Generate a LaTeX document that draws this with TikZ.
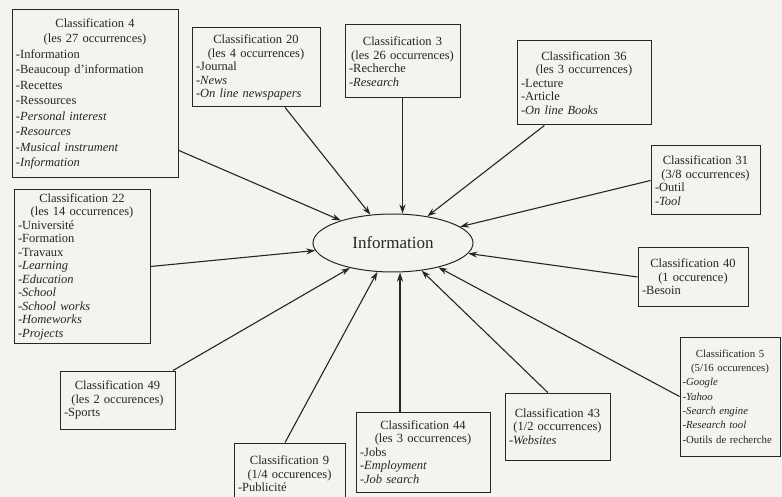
\documentclass[tikz,border=0pt]{standalone}
\usepackage{fontspec}
\setmainfont{Liberation Serif}
\usetikzlibrary{shapes.geometric,arrows.meta}
\definecolor{paper}{HTML}{F4F3EF}
\definecolor{ink}{HTML}{262626}
% centred heading of a box
\newcommand{\cltitle}[2]{{\centering #1\\#2\par}}
\tikzset{
  classbox/.style={draw=ink, line width=1pt, align=left, inner xsep=4pt, inner ysep=3pt,
    text=ink, font=\fontsize{12.5}{13.5}\selectfont},
  linkarrow/.style={draw=ink, line width=1.1pt, -{Stealth[length=9pt,width=6pt]}},
}
\begin{document}
\begin{tikzpicture}[x=1pt,y=-1pt]
		\fill[paper] (0,0) rectangle (782,497);
		\useasboundingbox (0,0) rectangle (782,497);
		\clip (0,0) rectangle (782,497);
		% centre
		\node[ellipse, draw=ink, line width=1pt, minimum width=160pt, minimum height=58pt,
			text=ink, font=\fontsize{17}{19}\selectfont] (info) at (393,243) {Information};
		% classification boxes
		\node[classbox, text width=158pt, minimum height=168pt,
			font=\fontsize{12.5}{15.5}\selectfont] (c4) at (95,94)
			{\cltitle{Classification 4}{(les 27 occurrences)}-Information\\-Beaucoup d'information\\-Recettes\\-Ressources\\-\textit{Personal interest}\\-\textit{Resources}\\-\textit{Musical instrument}\\-\textit{Information}};
		\node[classbox, text width=120pt, minimum height=79pt] (c20) at (256,67.5)
			{\cltitle{Classification 20}{(les 4 occurrences)}-Journal\\-\textit{News}\\-\textit{On line newspapers}};
		\node[classbox, text width=107pt, minimum height=73pt] (c3) at (402.5,61.5)
			{\cltitle{Classification 3}{(les 26 occurrences)}-Recherche\\-\textit{Research}};
		\node[classbox, text width=126pt, minimum height=84pt] (c36) at (584,83)
			{\cltitle{Classification 36}{(les 3 occurrences)}-Lecture\\-Article\\-\textit{On line Books}};
		\node[classbox, text width=101pt, minimum height=69pt] (c31) at (705.5,180.5)
			{\cltitle{Classification 31}{(3/8 occurrences)}-Outil\\-\textit{Tool}};
		\node[classbox, text width=128pt, minimum height=153pt] (c22) at (82,266.5)
			{\cltitle{Classification 22}{(les 14 occurrences)}-Université\\-Formation\\-Travaux\\-\textit{Learning}\\-\textit{Education}\\-\textit{School}\\-\textit{School works}\\-\textit{Homeworks}\\-\textit{Projects}};
		\node[classbox, text width=102pt, minimum height=58pt] (c40) at (693,277)
			{\cltitle{Classification 40}{(1 occurence)}-Besoin};
		\node[classbox, inner xsep=2.5pt, text width=95pt, minimum height=119pt,
			font=\fontsize{10.8}{14.3}\selectfont] (c5) at (730,396.5)
			{\cltitle{Classification 5}{(5/16 occurences)}-\textit{Google}\\-\textit{Yahoo}\\-\textit{Search engine}\\-\textit{Research tool}\\-Outils de recherche};
		\node[classbox, text width=107pt, minimum height=58pt] (c49) at (117.5,400)
			{\cltitle{Classification 49}{(les 2 occurences)}-Sports};
		\node[classbox, text width=103pt, minimum height=62pt] (c9) at (289.5,474)
			{\cltitle{Classification 9}{(1/4 occurences)}-Publicité};
		\node[classbox, text width=126pt, minimum height=80pt] (c44) at (423,452)
			{\cltitle{Classification 44}{(les 3 occurrences)}-Jobs\\-\textit{Employment}\\-\textit{Job search}};
		\node[classbox, text width=97pt, minimum height=67pt] (c43) at (557.5,426.5)
			{\cltitle{Classification 43}{(1/2 occurrences)}-\textit{Websites}};
		% links to the centre
		\draw[linkarrow] (c4.-34) -- (info);
		\draw[linkarrow] (c20.-54) -- (info);
		\draw[linkarrow] (c3.south) -- (c3.south |- info.north);
		\draw[linkarrow] (c36.-133) -- (info);
		\draw[linkarrow] (c31.west) -- (info);
		\draw[linkarrow] (c22.east) -- (info);
		\draw[linkarrow] (c40.west) -- (info);
		\draw[linkarrow] (c5.west) -- (info);
		\draw[linkarrow] (c49.28) -- (info);
		\draw[linkarrow] (c9.98) -- (info);
		\draw[linkarrow] ([xshift=-23pt]c44.north) -- ([xshift=-23pt]c44.north |- info.south);
		\draw[linkarrow] (c43.106) -- (info);
\end{tikzpicture}
\end{document}
